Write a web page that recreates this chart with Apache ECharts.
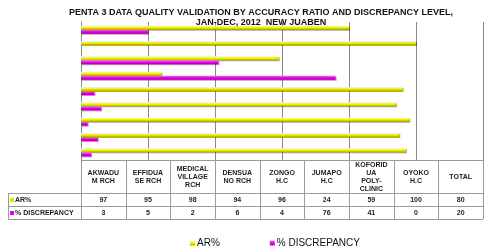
<!DOCTYPE html>
<html>
<head>
<meta charset="utf-8">
<script src="https://cdn.jsdelivr.net/npm/echarts@6/dist/echarts.min.js"></script>
<style>
  html, body { margin: 0; padding: 0; background: #fff; }
  #chart { width: 500px; height: 252px; }
</style>
</head>
<body>
<div id="chart"></div>
<script>
// data
const categories = ['AKWADU\nM RCH', 'EFFIDUA\nSE RCH', 'MEDICAL\nVILLAGE\nRCH', 'DENSUA\nNO RCH',
  'ZONGO\nH.C', 'JUMAPO\nH.C', 'KOFORID\nUA\nPOLY-\nCLINIC', 'OYOKO\nH.C', 'TOTAL'];
const arValues = [97, 95, 98, 94, 96, 24, 59, 100, 80];
const discValues = [3, 5, 2, 6, 4, 76, 41, 0, 20];
const seriesNames = ['AR%', '% DISCREPANCY'];

const chart = echarts.init(document.getElementById('chart'));

const gridLeft = 81, gridRight = 483, gridTop = 22, gridBottom = 160;
const lineColor = '#9a9a9a';
const font = 'Liberation Sans, Arial, sans-serif';

function barGradient(light, mid, dark) {
  return new echarts.graphic.LinearGradient(0, 0, 0, 1, [
    { offset: 0, color: light },
    { offset: 0.5, color: mid },
    { offset: 1, color: dark }
  ]);
}

// data table under the plot, built from the arrays
function buildTable() {
  const els = [];
  const colW = (gridRight - gridLeft) / categories.length;
  const rowTop = gridBottom, headBottom = 193, row1Bottom = 206, row2Bottom = 219;
  const labelLeft = 8;
  const line = (x1, y1, x2, y2) => els.push({
    type: 'line', shape: { x1, y1, x2, y2 }, style: { stroke: lineColor, lineWidth: 1 }, silent: true
  });
  // horizontal lines
  line(gridLeft, rowTop + 0.5, gridRight, rowTop + 0.5);
  line(labelLeft, headBottom + 0.5, gridRight, headBottom + 0.5);
  line(labelLeft, row1Bottom + 0.5, gridRight, row1Bottom + 0.5);
  line(labelLeft, row2Bottom + 0.5, gridRight, row2Bottom + 0.5);
  // vertical lines
  line(labelLeft + 0.5, headBottom, labelLeft + 0.5, row2Bottom);
  for (let i = 0; i <= categories.length; i++) {
    const x = Math.round(gridLeft + i * colW) + 0.5;
    line(x, rowTop, x, row2Bottom);
  }
  categories.forEach((c, i) => {
    const cx = gridLeft + (i + 0.5) * colW;
    els.push({
      type: 'text', silent: true,
      style: { x: cx, y: (rowTop + headBottom) / 2 + 0.5, text: c, align: 'center', verticalAlign: 'middle',
        font: 'bold 7px ' + font, lineHeight: 8, fill: '#222' }
    });
    els.push({
      type: 'text', silent: true,
      style: { x: cx, y: (headBottom + row1Bottom) / 2 + 1, text: String(arValues[i]), align: 'center',
        verticalAlign: 'middle', font: 'bold 7px ' + font, fill: '#222' }
    });
    els.push({
      type: 'text', silent: true,
      style: { x: cx, y: (row1Bottom + row2Bottom) / 2 + 1, text: String(discValues[i]), align: 'center',
        verticalAlign: 'middle', font: 'bold 7px ' + font, fill: '#222' }
    });
  });
  const keys = [['#e6e600', headBottom, row1Bottom], ['#e600e6', row1Bottom, row2Bottom]];
  keys.forEach((k, j) => {
    const cy = (k[1] + k[2]) / 2 + 0.5;
    els.push({ type: 'rect', silent: true, shape: { x: labelLeft + 2, y: cy - 2, width: 4, height: 4 },
      style: { fill: k[0] } });
    els.push({
      type: 'text', silent: true,
      style: { x: labelLeft + 7, y: cy + 0.5, text: seriesNames[j], verticalAlign: 'middle',
        font: 'bold 7px ' + font, fill: '#222' }
    });
  });
  return els;
}

const option = {
  animation: false,
  backgroundColor: '#fff',
  title: {
    text: 'PENTA 3 DATA QUALITY VALIDATION BY ACCURACY RATIO AND DISCREPANCY LEVEL,\nJAN-DEC, 2012  NEW JUABEN',
    left: 256, top: 3, textAlign: 'center',
    textStyle: { fontFamily: font, fontSize: 9, fontWeight: 'bold', color: '#111', lineHeight: 10 }
  },
  legend: {
    data: seriesNames,
    top: 238, left: 190, padding: 0,
    itemWidth: 5, itemHeight: 5, itemGap: 50,
    icon: 'rect',
    textStyle: { fontFamily: font, fontSize: 10, color: '#111', padding: [0, 0, 0, -3] }
  },
  grid: { left: gridLeft, right: 500 - gridRight, top: gridTop, bottom: 252 - gridBottom },
  xAxis: {
    type: 'value', min: 0, max: 120, interval: 20,
    axisLabel: { show: false }, axisTick: { show: false }, axisLine: { show: false },
    splitLine: { lineStyle: { color: '#8a8a8a', width: 1 } }
  },
  yAxis: {
    type: 'category', data: categories,
    axisLabel: { show: false }, axisTick: { show: false },
    axisLine: { lineStyle: { color: '#8a8a8a' } }
  },
  series: [
    {
      name: seriesNames[0], type: 'bar', data: arValues, barWidth: 4, barGap: '0%',
      itemStyle: { color: barGradient('#ffff88', '#f2f200', '#a8a800'),
        shadowColor: 'rgba(0,0,0,0.35)', shadowOffsetY: 1, shadowOffsetX: 1 }
    },
    {
      name: seriesNames[1], type: 'bar', data: discValues, barWidth: 4, barGap: '0%',
      itemStyle: { color: barGradient('#ff66ff', '#ee00ee', '#9a009a'),
        shadowColor: 'rgba(0,0,0,0.35)', shadowOffsetY: 1, shadowOffsetX: 1 }
    }
  ],
  graphic: buildTable()
};

chart.setOption(option);
</script>
</body>
</html>
